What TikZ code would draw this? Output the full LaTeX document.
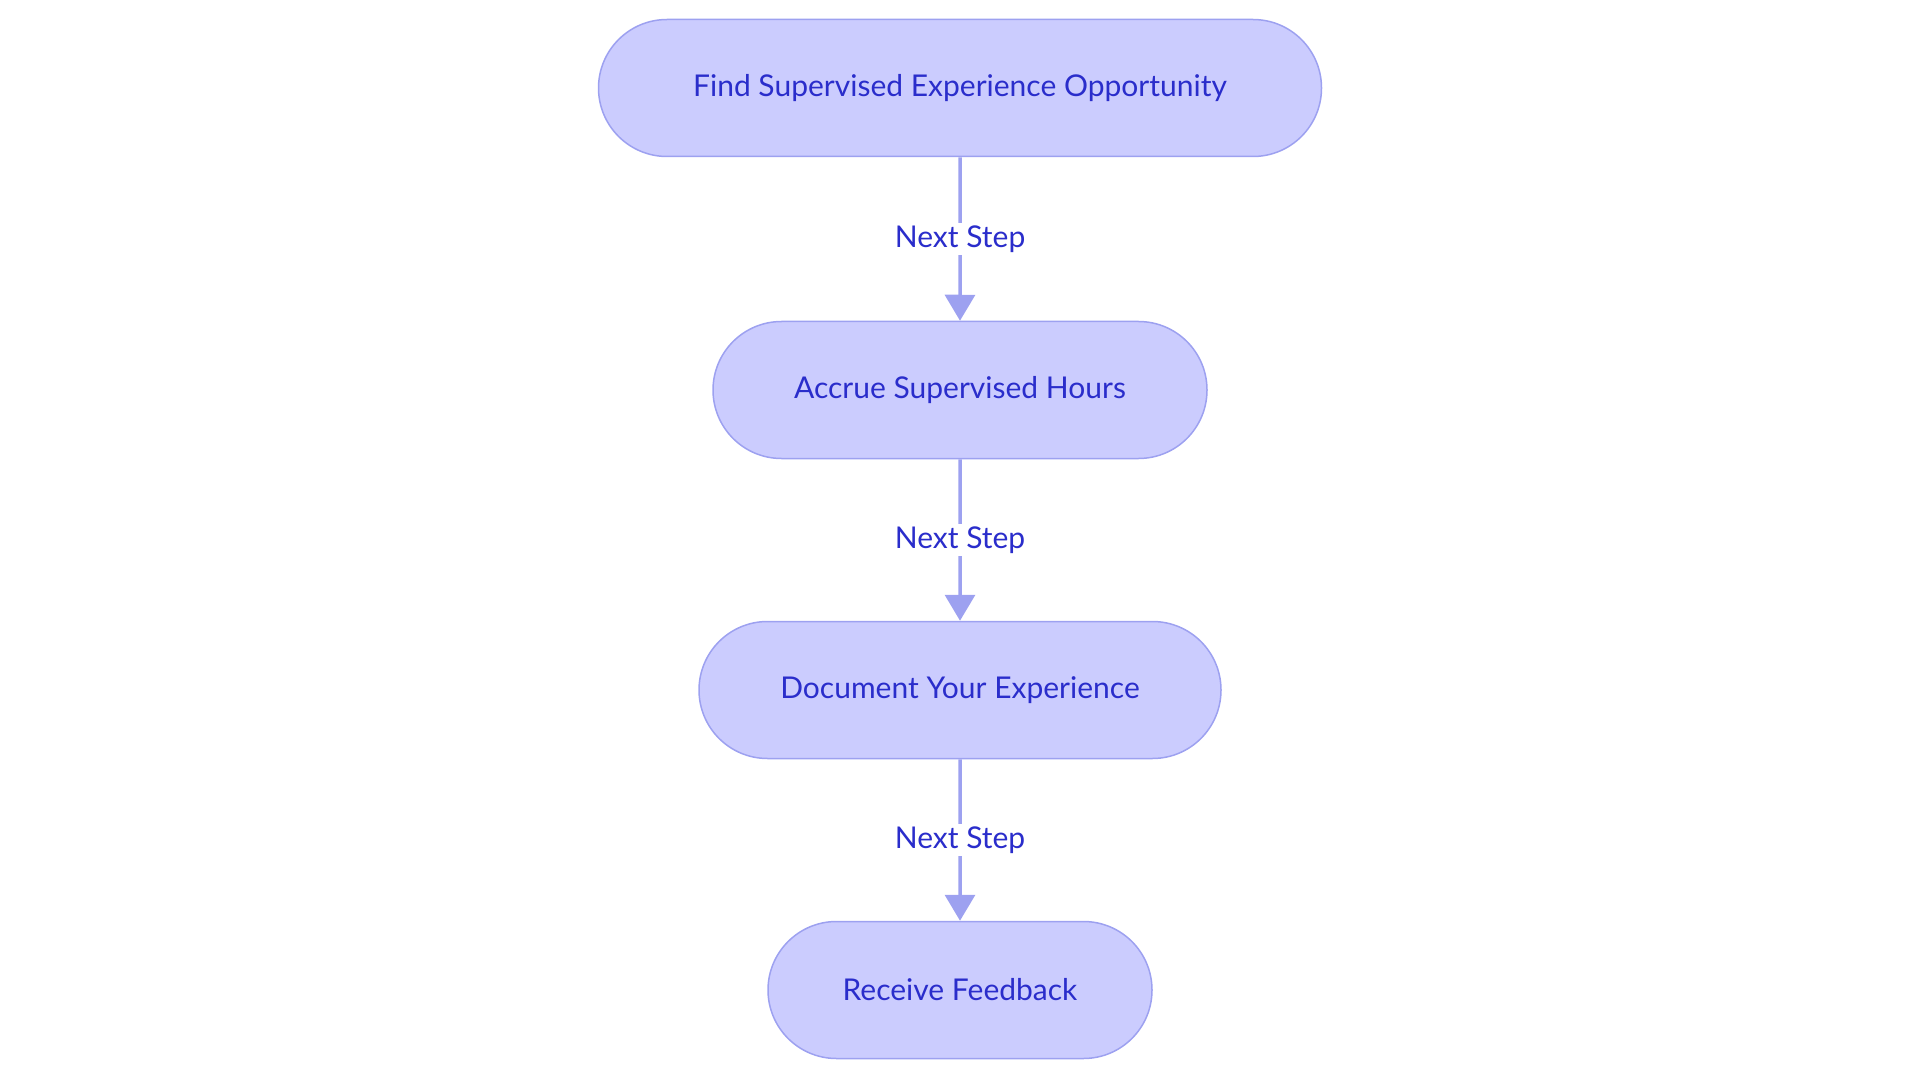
\documentclass[tikz,border=0pt]{standalone}
\usepackage{fontspec}
\setmainfont{Lato}
\usetikzlibrary{arrows.meta}
\definecolor{fillc}{HTML}{CBCCFE}
\definecolor{linec}{HTML}{9DA1F0}
\definecolor{textc}{HTML}{2A2DCB}
\tikzset{
 box/.style={draw=linec,line width=1.5pt,fill=fillc,rounded rectangle,text=textc,font=\fontsize{30}{36}\selectfont,minimum height=137pt,inner xsep=0pt},
 lab/.style={fill=white,text=textc,font=\fontsize{30}{36}\selectfont,inner sep=3pt},
 conn/.style={draw=linec,line width=3.5pt,-{Triangle[length=26pt,width=30pt]}}
}
\usetikzlibrary{shapes.misc}
\begin{document}
\begin{tikzpicture}[x=1pt,y=1pt]
\useasboundingbox (0,0) rectangle (1920,-1083);
\node[box,minimum width=723pt] (a) at (960,-88) {Find Supervised Experience Opportunity};
\node[box,minimum width=494pt] (b) at (960,-390) {Accrue Supervised Hours};
\node[box,minimum width=522pt] (c) at (960,-690) {Document Your Experience};
\node[box,minimum width=384pt] (d) at (960,-990) {Receive Feedback};
\draw[conn] (a) -- node[lab]{Next Step} (b);
\draw[conn] (b) -- node[lab]{Next Step} (c);
\draw[conn] (c) -- node[lab]{Next Step} (d);
\end{tikzpicture}
\end{document}
